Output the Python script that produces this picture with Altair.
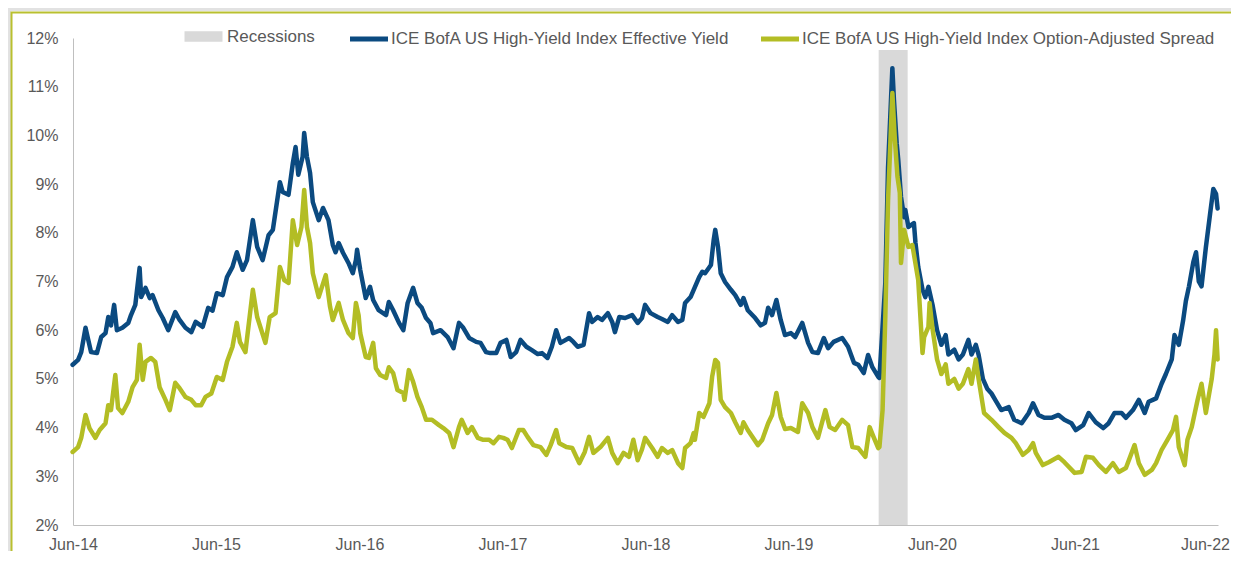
import altair as alt
import pandas as pd

# ---------------- data (dates as decimal years, values in %) ----------------
S1 = "ICE BofA US High-Yield Index Effective Yield"
S2 = "ICE BofA US High-Yield Index Option-Adjusted Spread"
REC = "Recessions"

blue_t = [
    2014.41, 2014.45, 2014.47, 2014.50, 2014.52, 2014.54, 2014.58, 2014.61, 2014.64, 2014.66,
    2014.68, 2014.70, 2014.72, 2014.76, 2014.80, 2014.82, 2014.85, 2014.88, 2014.89, 2014.92,
    2014.95, 2014.97, 2015.01, 2015.04, 2015.08, 2015.13, 2015.16, 2015.20, 2015.24, 2015.27,
    2015.32, 2015.36, 2015.39, 2015.42, 2015.46, 2015.49, 2015.53, 2015.56, 2015.60, 2015.63,
    2015.67, 2015.70, 2015.74, 2015.78, 2015.81, 2015.86, 2015.88, 2015.92, 2015.95, 2015.97,
    2015.99, 2016.02, 2016.03, 2016.05, 2016.07, 2016.09, 2016.13, 2016.16, 2016.20, 2016.23,
    2016.25, 2016.27, 2016.30, 2016.34, 2016.37, 2016.39, 2016.40, 2016.42, 2016.46, 2016.49,
    2016.51, 2016.55, 2016.60, 2016.62, 2016.65, 2016.69, 2016.72, 2016.75, 2016.79, 2016.82,
    2016.85, 2016.88, 2016.91, 2016.93, 2016.98, 2017.03, 2017.07, 2017.11, 2017.14, 2017.18,
    2017.23, 2017.26, 2017.30, 2017.33, 2017.37, 2017.40, 2017.44, 2017.47, 2017.51, 2017.54,
    2017.58, 2017.62, 2017.66, 2017.69, 2017.73, 2017.76, 2017.79, 2017.82, 2017.88, 2017.91,
    2017.94, 2017.98, 2018.02, 2018.04, 2018.08, 2018.11, 2018.15, 2018.18, 2018.20, 2018.23,
    2018.27, 2018.32, 2018.36, 2018.39, 2018.41, 2018.45, 2018.50, 2018.53, 2018.57, 2018.60,
    2018.64, 2018.67, 2018.69, 2018.73, 2018.75, 2018.79, 2018.81, 2018.83, 2018.87, 2018.89,
    2018.90, 2018.92, 2018.94, 2018.97, 2019.01, 2019.04, 2019.08, 2019.10, 2019.13, 2019.18,
    2019.22, 2019.25, 2019.27, 2019.30, 2019.33, 2019.36, 2019.39, 2019.43, 2019.46, 2019.51,
    2019.55, 2019.58, 2019.62, 2019.66, 2019.69, 2019.73, 2019.79, 2019.83, 2019.87, 2019.90,
    2019.94, 2019.97, 2020.00, 2020.04, 2020.05, 2020.07, 2020.09, 2020.11, 2020.14, 2020.15,
    2020.17, 2020.18, 2020.20, 2020.22, 2020.23, 2020.25, 2020.29, 2020.30, 2020.32, 2020.35,
    2020.37, 2020.39, 2020.42, 2020.45, 2020.48, 2020.51, 2020.53, 2020.57, 2020.60, 2020.63,
    2020.67, 2020.69, 2020.72, 2020.74, 2020.77, 2020.80, 2020.83, 2020.86, 2020.90, 2020.95,
    2020.99, 2021.04, 2021.09, 2021.12, 2021.16, 2021.20, 2021.25, 2021.30, 2021.34, 2021.39,
    2021.42, 2021.47, 2021.51, 2021.56, 2021.61, 2021.65, 2021.69, 2021.74, 2021.77, 2021.82,
    2021.86, 2021.90, 2021.93, 2021.98, 2022.02, 2022.05, 2022.09, 2022.11, 2022.14, 2022.17,
    2022.19, 2022.21, 2022.24, 2022.26, 2022.28, 2022.30, 2022.33, 2022.36, 2022.38, 2022.40,
    2022.41,
]
blue_v = [
    5.29, 5.39, 5.55, 6.05, 5.80, 5.55, 5.53, 5.86, 5.94, 6.27,
    6.10, 6.52, 6.00, 6.05, 6.15, 6.31, 6.52, 7.28, 6.68, 6.87,
    6.66, 6.72, 6.41, 6.25, 6.00, 6.37, 6.21, 6.05, 5.96, 6.17,
    6.07, 6.46, 6.40, 6.76, 6.72, 7.09, 7.30, 7.60, 7.24, 7.44,
    8.26, 7.71, 7.44, 7.95, 8.06, 9.04, 8.84, 8.78, 9.43, 9.76,
    9.19, 9.56, 10.05, 9.56, 9.23, 8.63, 8.26, 8.51, 8.26, 7.75,
    7.60, 7.79, 7.59, 7.38, 7.17, 7.44, 7.65, 7.24, 6.66, 6.89,
    6.62, 6.41, 6.31, 6.58, 6.41, 6.15, 6.00, 6.56, 6.87, 6.56,
    6.46, 6.25, 6.15, 5.94, 6.00, 5.86, 5.63, 6.15, 6.05, 5.84,
    5.76, 5.74, 5.55, 5.53, 5.53, 5.74, 5.80, 5.45, 5.55, 5.80,
    5.66, 5.59, 5.51, 5.53, 5.43, 5.66, 6.00, 5.74, 5.84, 5.76,
    5.66, 5.70, 6.35, 6.17, 6.27, 6.21, 6.35, 6.17, 5.96, 6.27,
    6.25, 6.31, 6.15, 6.25, 6.52, 6.35, 6.27, 6.23, 6.17, 6.31,
    6.17, 6.21, 6.56, 6.68, 6.83, 7.09, 7.20, 7.17, 7.34, 7.85,
    8.06, 7.71, 7.17, 6.99, 6.83, 6.72, 6.52, 6.66, 6.41, 6.25,
    6.10, 6.15, 6.46, 6.31, 6.62, 6.21, 5.90, 5.94, 5.86, 6.15,
    5.74, 5.55, 5.53, 5.84, 5.63, 5.76, 5.84, 5.66, 5.33, 5.29,
    5.12, 5.49, 5.24, 5.04, 5.02, 6.07, 6.97, 9.35, 11.38, 10.73,
    9.84, 9.50, 8.74, 8.32, 8.47, 8.12, 8.20, 7.79, 7.30, 6.83,
    6.68, 6.89, 6.50, 6.00, 5.70, 5.90, 5.50, 5.60, 5.40, 5.50,
    5.80, 5.50, 5.70, 5.50, 5.00, 4.80, 4.70, 4.55, 4.36, 4.42,
    4.16, 4.09, 4.30, 4.50, 4.26, 4.20, 4.20, 4.26, 4.16, 4.09,
    3.95, 4.05, 4.30, 4.11, 3.99, 4.09, 4.30, 4.30, 4.20, 4.36,
    4.57, 4.30, 4.53, 4.60, 4.90, 5.10, 5.40, 5.90, 5.70, 6.20,
    6.60, 6.90, 7.40, 7.60, 7.00, 6.90, 7.70, 8.40, 8.90, 8.80,
    8.50,
]

green_t = [
    2014.41, 2014.45, 2014.47, 2014.50, 2014.53, 2014.57, 2014.60, 2014.64, 2014.66, 2014.68,
    2014.71, 2014.73, 2014.76, 2014.80, 2014.83, 2014.86, 2014.88, 2014.90, 2014.92, 2014.96,
    2014.99, 2015.02, 2015.06, 2015.09, 2015.13, 2015.16, 2015.20, 2015.24, 2015.27, 2015.31,
    2015.34, 2015.38, 2015.42, 2015.46, 2015.49, 2015.53, 2015.56, 2015.58, 2015.62, 2015.67,
    2015.70, 2015.76, 2015.79, 2015.83, 2015.86, 2015.89, 2015.92, 2015.95, 2015.98, 2016.01,
    2016.03, 2016.05, 2016.07, 2016.09, 2016.13, 2016.18, 2016.21, 2016.23, 2016.27, 2016.30,
    2016.34, 2016.37, 2016.39, 2016.41, 2016.42, 2016.46, 2016.48, 2016.51, 2016.53, 2016.56,
    2016.60, 2016.62, 2016.65, 2016.68, 2016.72, 2016.73, 2016.76, 2016.79, 2016.82, 2016.85,
    2016.88, 2016.92, 2016.97, 2017.00, 2017.04, 2017.07, 2017.11, 2017.13, 2017.17, 2017.20,
    2017.24, 2017.28, 2017.32, 2017.35, 2017.39, 2017.42, 2017.45, 2017.48, 2017.53, 2017.56,
    2017.59, 2017.63, 2017.68, 2017.72, 2017.75, 2017.79, 2017.81, 2017.86, 2017.90, 2017.95,
    2017.99, 2018.02, 2018.05, 2018.10, 2018.15, 2018.18, 2018.22, 2018.26, 2018.30, 2018.33,
    2018.36, 2018.39, 2018.41, 2018.46, 2018.50, 2018.53, 2018.57, 2018.60, 2018.64, 2018.67,
    2018.69, 2018.73, 2018.75, 2018.76, 2018.79, 2018.82, 2018.86, 2018.88, 2018.90, 2018.92,
    2018.94, 2018.97, 2019.01, 2019.04, 2019.08, 2019.10, 2019.13, 2019.20, 2019.23, 2019.27,
    2019.30, 2019.33, 2019.36, 2019.39, 2019.43, 2019.48, 2019.51, 2019.55, 2019.58, 2019.62,
    2019.67, 2019.70, 2019.74, 2019.79, 2019.83, 2019.86, 2019.90, 2019.95, 2019.98, 2020.01,
    2020.04, 2020.05, 2020.07, 2020.09, 2020.11, 2020.14, 2020.155, 2020.175, 2020.19, 2020.20,
    2020.22, 2020.25, 2020.28, 2020.32, 2020.35, 2020.36, 2020.39, 2020.40, 2020.42, 2020.45,
    2020.48, 2020.51, 2020.53, 2020.57, 2020.60, 2020.63, 2020.67, 2020.69, 2020.72, 2020.74,
    2020.78, 2020.83, 2020.88, 2020.92, 2020.97, 2021.00, 2021.05, 2021.09, 2021.12, 2021.14,
    2021.19, 2021.23, 2021.30, 2021.34, 2021.41, 2021.46, 2021.49, 2021.54, 2021.58, 2021.63,
    2021.68, 2021.72, 2021.77, 2021.83, 2021.86, 2021.90, 2021.95, 2021.98, 2022.02, 2022.06,
    2022.10, 2022.12, 2022.14, 2022.18, 2022.20, 2022.23, 2022.27, 2022.30, 2022.33, 2022.37,
    2022.39, 2022.40, 2022.41,
]
green_v = [
    3.50, 3.60, 3.79, 4.26, 3.99, 3.79, 3.95, 4.09, 4.46, 4.36,
    5.08, 4.40, 4.30, 4.53, 4.83, 4.98, 5.70, 4.98, 5.35, 5.43,
    5.35, 4.83, 4.57, 4.36, 4.92, 4.81, 4.63, 4.57, 4.46, 4.46,
    4.63, 4.70, 5.04, 4.98, 5.35, 5.66, 6.15, 5.76, 5.55, 6.83,
    6.27, 5.74, 6.27, 6.35, 7.30, 7.03, 6.97, 8.26, 7.75, 8.12,
    8.88, 8.12, 7.79, 7.17, 6.68, 7.13, 6.48, 6.21, 6.56, 6.21,
    5.94, 5.84, 6.56, 6.30, 5.94, 5.45, 5.43, 5.74, 5.22, 5.08,
    5.02, 5.24, 5.12, 4.77, 4.71, 4.57, 5.18, 4.94, 4.63, 4.42,
    4.16, 4.16, 4.05, 3.99, 3.89, 3.60, 4.01, 4.16, 3.89, 4.01,
    3.79, 3.75, 3.75, 3.68, 3.81, 3.79, 3.75, 3.58, 3.95, 3.95,
    3.81, 3.64, 3.60, 3.44, 3.64, 3.95, 3.68, 3.60, 3.58, 3.27,
    3.50, 3.81, 3.48, 3.60, 3.79, 3.48, 3.27, 3.48, 3.40, 3.75,
    3.33, 3.55, 3.79, 3.58, 3.40, 3.58, 3.48, 3.54, 3.27, 3.17,
    3.58, 3.68, 3.89, 3.75, 4.30, 4.22, 4.50, 5.04, 5.39, 5.33,
    4.57, 4.42, 4.30, 4.11, 3.89, 4.11, 3.95, 3.64, 3.75, 4.09,
    4.26, 4.71, 4.22, 3.97, 3.99, 3.91, 4.50, 4.30, 4.01, 3.79,
    4.36, 4.01, 3.95, 4.16, 4.05, 3.60, 3.58, 3.40, 4.01, 3.79,
    3.58, 3.60, 4.36, 6.27, 8.67, 10.87, 9.97, 9.15, 8.82, 7.38,
    8.06, 7.71, 7.75, 7.03, 5.53, 5.86, 6.07, 6.56, 6.00, 5.40,
    5.10, 5.30, 4.90, 5.00, 4.80, 4.90, 5.20, 4.90, 5.40, 5.00,
    4.30, 4.16, 4.01, 3.89, 3.79, 3.68, 3.44, 3.54, 3.68, 3.48,
    3.23, 3.29, 3.40, 3.29, 3.07, 3.09, 3.40, 3.38, 3.23, 3.09,
    3.27, 3.09, 3.17, 3.64, 3.27, 3.03, 3.13, 3.27, 3.54, 3.75,
    3.95, 4.22, 3.60, 3.23, 3.75, 4.01, 4.57, 4.90, 4.30, 5.00,
    5.50, 6.00, 5.40,
]

rec_t = [2020.045, 2020.247]          # recession start / end
y_ticks = [2, 3, 4, 5, 6, 7, 8, 9, 10, 11, 12]
x_tick_years = [2014, 2015, 2016, 2017, 2018, 2019, 2020, 2021, 2022]

# ---------------- styling ----------------
BLUE = "#0b4a80"
GREEN = "#b3bd24"
GREY = "#d9d9d9"
BORDER = "#b9c02f"
TXT = "#595959"
FONT = "Liberation Sans"


def to_ts(t):
    y = int(t)
    start = pd.Timestamp(year=y, month=1, day=1)
    end = pd.Timestamp(year=y + 1, month=1, day=1)
    return (start + (t - y) * (end - start)).round("D")


assert len(blue_t) == len(blue_v) and len(green_t) == len(green_v)

blue_df = pd.DataFrame({"date": [to_ts(t) for t in blue_t], "value": blue_v, "series": S1})
green_df = pd.DataFrame({"date": [to_ts(t) for t in green_t], "value": green_v, "series": S2})
rec_df = pd.DataFrame({"start": [to_ts(rec_t[0])], "end": [to_ts(rec_t[1])], "label": [REC]})
one = pd.DataFrame({"k": [0]})

x_scale = alt.Scale(domain=[alt.DateTime(year=x_tick_years[0], month=6, date=1),
                            alt.DateTime(year=x_tick_years[-1], month=6, date=1)])
y_scale = alt.Scale(domain=[y_ticks[0], y_ticks[-1]], nice=False)

last_year_test = f"year(datum.value) == {x_tick_years[-1]}"
x_axis = alt.Axis(values=[alt.DateTime(year=y, month=6, date=1) for y in x_tick_years],
                  format="%b-%y", labelPadding=24, labelBaseline="alphabetic",
                  labelOffset={"condition": {"test": last_year_test, "value": -13}, "value": 0},
                  labelOverlap=False, labelFlush=False, title=None)
y_axis = alt.Axis(values=y_ticks, labelExpr="datum.value + '%'", labelPadding=15,
                  title=None)

stroke_enc = alt.Stroke(
    "series:N",
    scale=alt.Scale(domain=[S1, S2], range=[BLUE, GREEN]),
    legend=alt.Legend(
        title=None, orient="none", legendX=283, legendY=-12, direction="horizontal",
        columns=2, columnPadding=21, symbolType="M-2,0H2", symbolSize=361,
        symbolStrokeWidth=5, labelOffset=10, labelFont=FONT, labelFontSize=17,
        labelColor=TXT, labelLimit=600, padding=1, fillColor="white",
    ),
)

# decorative outer frame (shadow + olive border)
shadow = alt.Chart(one).mark_rect(fillOpacity=0, stroke="#e2e2e2", strokeWidth=3).encode(
    x=alt.value(-63.5), x2=alt.value(1190), y=alt.value(-28.5), y2=alt.value(560))
frame = alt.Chart(one).mark_rect(fillOpacity=0, stroke=BORDER, strokeWidth=2).encode(
    x=alt.value(-61.5), x2=alt.value(1190), y=alt.value(-25.5), y2=alt.value(560))

rec = alt.Chart(rec_df).mark_rect().encode(
    x=alt.X("start:T", scale=x_scale, axis=x_axis),
    x2="end:T",
    y=alt.datum(y_ticks[-1], scale=y_scale, axis=y_axis),
    y2=alt.datum(y_ticks[0]),
    fill=alt.Fill("label:N", scale=alt.Scale(domain=[REC], range=[GREY]),
                  legend=alt.Legend(title=None, orient="none", legendX=120, legendY=-12,
                                    symbolType="M-2,-0.55H2V0.55H-2Z", symbolSize=361,
                                    symbolStrokeWidth=0, labelOffset=14, labelFont=FONT,
                                    labelFontSize=17, labelColor=TXT, labelLimit=300,
                                    padding=1)),
)

blue = alt.Chart(blue_df).mark_line(strokeWidth=4.5, strokeJoin="round", strokeCap="round").encode(
    x=alt.X("date:T", scale=x_scale, axis=x_axis),
    y=alt.Y("value:Q", scale=y_scale, axis=y_axis),
    stroke=stroke_enc,
)
green = alt.Chart(green_df).mark_line(strokeWidth=4.5, strokeJoin="round", strokeCap="round").encode(
    x=alt.X("date:T", scale=x_scale, axis=x_axis),
    y=alt.Y("value:Q", scale=y_scale, axis=y_axis),
    stroke=stroke_enc,
)

chart = (
    alt.layer(shadow, frame, rec, blue, green)
    .properties(
        width=1145, height=487,
        autosize=alt.AutoSizeParams(type="none"),
        padding={"left": 65, "top": 30, "right": 13, "bottom": 26},
        background="white",
    )
    .configure_view(stroke=None)
    .configure_axis(
        domainColor="#bfbfbf", domainWidth=1, ticks=False, grid=False,
        labelFont=FONT, labelFontSize=16, labelColor=TXT, zindex=1,
    )
)

chart.save("out.html", embed_options={"renderer": "svg", "actions": False})
